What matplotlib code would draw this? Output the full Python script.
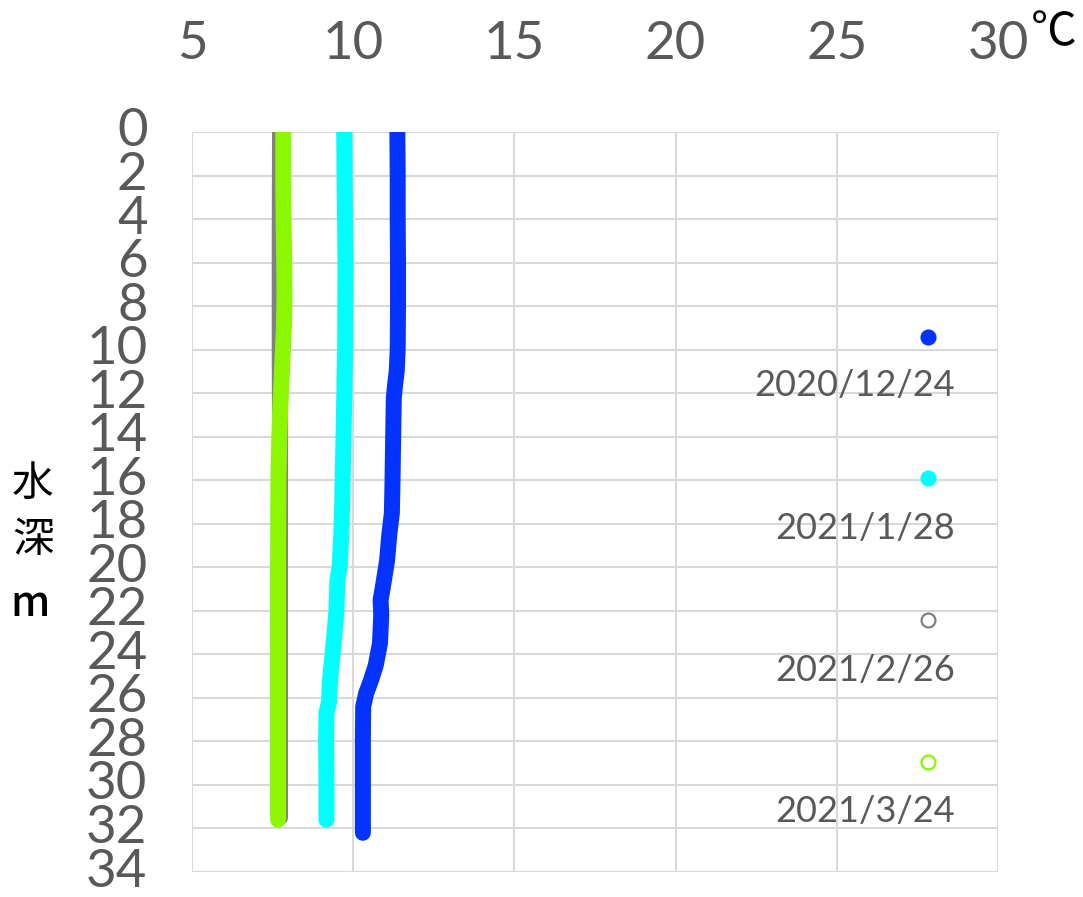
import matplotlib
matplotlib.use("Agg")
import matplotlib.pyplot as plt

# ---- data ----
dates = ["2020/12/24", "2021/1/28", "2021/2/26", "2021/3/24"]

depth_1224 = [0, 2, 4, 6, 8, 10, 11, 11.6, 12.2, 14, 16, 17.5, 18.5, 19.7, 20.9, 21.5, 22.2, 23.5, 24.5, 25.2, 25.8, 26.4, 28, 30, 32.2]
temp_1224 = [11.37, 11.38, 11.38, 11.39, 11.39, 11.38, 11.35, 11.30, 11.26, 11.24, 11.22, 11.20, 11.12, 11.05, 10.92, 10.85, 10.87, 10.83, 10.70, 10.55, 10.40, 10.31, 10.30, 10.30, 10.30]

depth_0128 = [0, 3, 6, 10, 14, 17, 18.5, 20, 20.6, 22, 23.7, 25.2, 26.2, 26.7, 28, 30, 31.6]
temp_0128 = [9.72, 9.74, 9.76, 9.75, 9.70, 9.66, 9.63, 9.58, 9.51, 9.48, 9.38, 9.28, 9.25, 9.17, 9.16, 9.17, 9.17]

depth_0226 = [0, 5, 10, 14, 20, 25, 31.5]
temp_0226 = [7.73, 7.72, 7.72, 7.73, 7.73, 7.73, 7.73]

depth_0324 = [0, 2, 4, 6, 7.5, 9, 10, 11, 12, 13, 14, 16, 20, 24, 28, 31.6]
temp_0324 = [7.83, 7.83, 7.84, 7.86, 7.87, 7.85, 7.82, 7.79, 7.76, 7.73, 7.71, 7.68, 7.67, 7.67, 7.67, 7.67]

x_ticks = [5, 10, 15, 20, 25, 30]
y_ticks = list(range(0, 36, 2))

series = [
    (depth_1224, temp_1224, "#0433FF", True),
    (depth_0128, temp_0128, "#00FFFF", True),
    (depth_0226, temp_0226, "#808080", False),
    (depth_0324, temp_0324, "#8CF700", False),
]

tick_font = ["Lato", "DejaVu Sans"]
cjk = ["Noto Sans CJK JP", "DejaVu Sans"]
grey_txt = "#595959"

fig = plt.figure(figsize=(10.83, 8.97), dpi=100)
ax = fig.add_axes([192 / 1083, 1 - 872 / 897, (998 - 192) / 1083, (872 - 132) / 897])

for d, t, c, _ in series:
    ax.plot(t, d, color=c, lw=11.5, solid_capstyle="round", solid_joinstyle="round", zorder=3)

ax.set_xlim(5, 30)
ax.set_ylim(34, 0)
ax.set_xticks(x_ticks)
ax.set_yticks(y_ticks)
ax.xaxis.tick_top()
ax.set_xticklabels([str(v) for v in x_ticks], family=tick_font, fontsize=38, color=grey_txt)
ax.set_yticklabels([str(v) for v in y_ticks], family=tick_font, fontsize=38, color=grey_txt, va="center")
ax.tick_params(axis="x", length=0, pad=46)
ax.tick_params(axis="y", length=0, pad=32)
ax.grid(True, color="#d9d9d9", lw=1.5, zorder=0)
ax.set_axisbelow(True)
for s in ax.spines.values():
    s.set_visible(False)

# degree sign after 30
fig.text(1054 / 1083, 1 - 32 / 897, "℃", family=cjk, fontsize=33, color="black", ha="center", va="center")

# vertical y label
fig.text(33 / 1083, 1 - 484 / 897, "水", family=cjk, fontsize=30, color="black", ha="center", va="center")
fig.text(33 / 1083, 1 - 540 / 897, "深", family=cjk, fontsize=30, color="black", ha="center", va="center")
fig.text(30 / 1083, 1 - 603 / 897, "m", family=cjk, fontsize=30, color="black", ha="center", va="center", fontweight="medium")

# legend: marker above right-aligned label
marker_y = [337, 478, 620, 762]
label_y = [386, 528, 670, 811]
for (d, t, c, filled), name, my, ly in zip(series, dates, marker_y, label_y):
    fig.lines.append(plt.Line2D([928 / 1083], [1 - my / 897], transform=fig.transFigure,
                                marker="o", markersize=10, markeredgewidth=1.6,
                                markerfacecolor=c if filled else "white", markeredgecolor=c, linestyle="none"))
    fig.text(955 / 1083, 1 - ly / 897, name, family=tick_font, fontsize=26, color=grey_txt, ha="right", va="center")

fig.savefig("out.png", dpi=100)
